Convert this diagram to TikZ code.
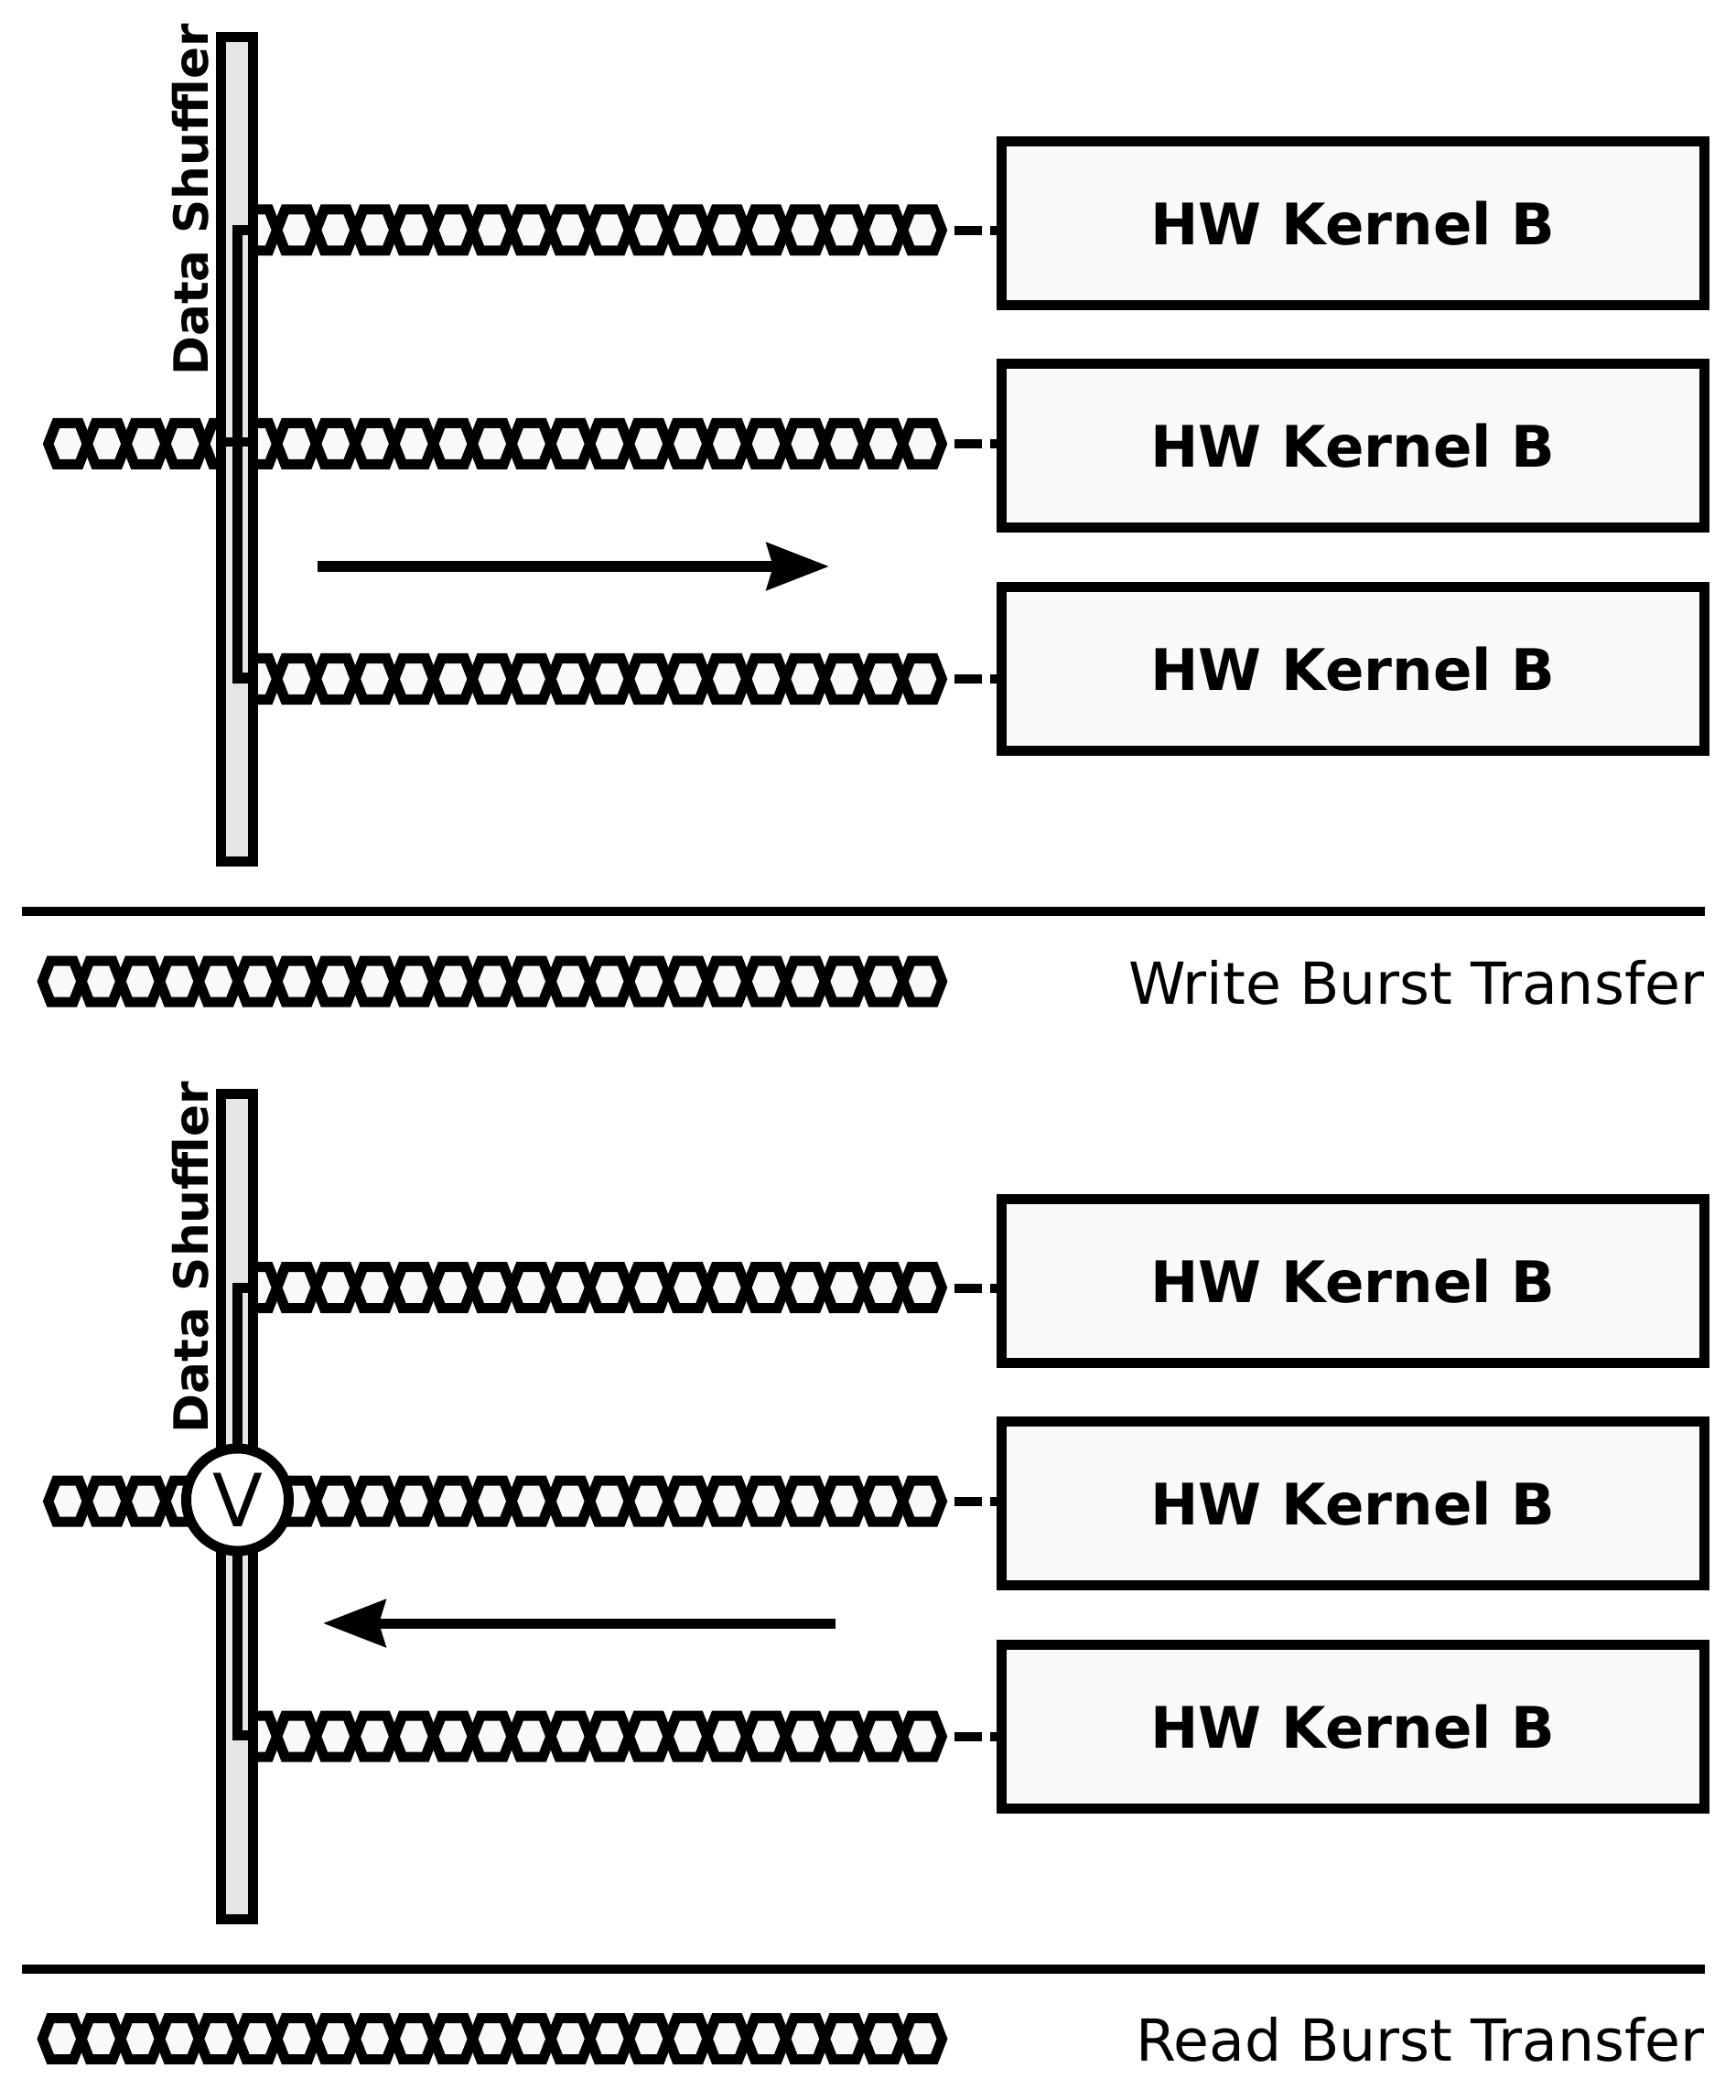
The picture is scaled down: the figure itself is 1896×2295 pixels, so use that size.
\documentclass[tikz,border=0pt]{standalone}
\usepackage{fontspec}
\setmainfont{DejaVu Sans}
\usetikzlibrary{arrows.meta}
\definecolor{kernelfill}{HTML}{F9F9F9}
\definecolor{shufflefill}{HTML}{E5E5E5}
\tikzset{
	kernelbox/.style={draw,line width=1.1mm,fill=kernelfill,minimum width=76.8mm,minimum height=17.9mm,inner sep=0pt,font=\fontsize{17.8}{20}\selectfont\bfseries},
	shufflebox/.style={draw,line width=1.1mm,fill=shufflefill,minimum width=3.5mm,minimum height=90.1mm,inner sep=0pt},
	shufflelabel/.style={anchor=base,rotate=90,inner sep=0pt,font=\fontsize{14.7}{16}\selectfont\bfseries},
	burstlabel/.style={anchor=base east,inner sep=0pt,font=\fontsize{18}{20}\selectfont},
	hexcell/.style={draw,line width=1.1mm,fill=kernelfill},
	shuffleline/.style={line width=1.1mm},
	linkline/.style={line width=1mm,dash pattern=on 3mm off .9mm},
	rule/.style={line width=1mm},
	flow/.style={line width=1.1mm},
	gate/.style={draw,circle,line width=1.1mm,fill=white,minimum size=11.2mm,inner sep=0pt,font=\fontsize{22.8}{24}\selectfont}
}
% one row of hexagons: first centre, count, y
\newcommand{\hexrow}[3]{
	\foreach \i in {1,...,#2}{
		\draw[hexcell,shift={({#1+(\i-1)*42.75},#3)}]
		(-21.3,0) -- (-12.5,-22.5) -- (12.5,-22.5) -- (21.3,0) -- (12.5,22.5) -- (-12.5,22.5) -- cycle;
	}
}
\begin{document}
\begin{tikzpicture}[x=0.01cm,y=-0.01cm]
	\useasboundingbox (0,0) rectangle (1896,2295);
	\foreach \g/\s/\lbl in {wr/0/Write Burst Transfer,rd/-11.55/Read Burst Transfer}{
		\begin{scope}[yshift=\s cm]
			% bursts
			\hexrow{74}{5}{485}
			\hexrow{281.25}{18}{251.5}
			\hexrow{281.25}{18}{485}
			\hexrow{281.25}{18}{742}
			% shuffler
			\node (\g shuf) [shufflebox] at (259,491) {};
			\node (\g name) [shufflelabel] at (227,218.5) {Data Shuffler};
			\coordinate (\g in1) at (276,251.5);
			\coordinate (\g in3) at (276,741);
			\coordinate (\g bar) at (259,485);
			\draw[shuffleline] (\g in1) -| (\g in3 -| \g bar) -- (\g in3);
			% kernels
			\node (\g k1) [kernelbox] at (1478.5,244) {HW Kernel B};
			\node (\g k2) [kernelbox] at (1478.5,487) {HW Kernel B};
			\node (\g k3) [kernelbox] at (1478.5,731) {HW Kernel B};
			\coordinate (\g o1) at (1043,252);
			\coordinate (\g o2) at (1043,485);
			\coordinate (\g o3) at (1043,742);
			\draw[linkline] (\g o1) -- (\g o1 -| \g k1.west);
			\draw[linkline] (\g o2) -- (\g o2 -| \g k2.west);
			\draw[linkline] (\g o3) -- (\g o3 -| \g k3.west);
			% legend
			\coordinate (\g rl) at (24,996);
			\coordinate (\g rr) at (1863,996);
			\draw[rule] (\g rl) -- (\g rr);
			\hexrow{67.7}{23}{1072.5}
			\node (\g lbl) [burstlabel] at (1863,1097) {\lbl};
		\end{scope}
	}
	% write: crossing inside the shuffler
	\coordinate (wrcl) at (241,483);
	\coordinate (wrcr) at (276,483);
	\draw[line width=1mm] (wrcl) -- (wrcr);
	% read: merge
	\node (rdgate) [gate] at (259.5,1639) {V};
	% directions
	\coordinate (wra) at (347,619);
	\coordinate (wrb) at (906,619);
	\draw[flow,-{Stealth[length=6.8mm,width=5.1mm,inset=.7mm]}] (wra) -- (wrb);
	\coordinate (rda) at (913,1774);
	\coordinate (rdb) at (353,1774);
	\draw[flow,-{Stealth[length=6.8mm,width=5.1mm,inset=.7mm]}] (rda) -- (rdb);
\end{tikzpicture}
\end{document}
